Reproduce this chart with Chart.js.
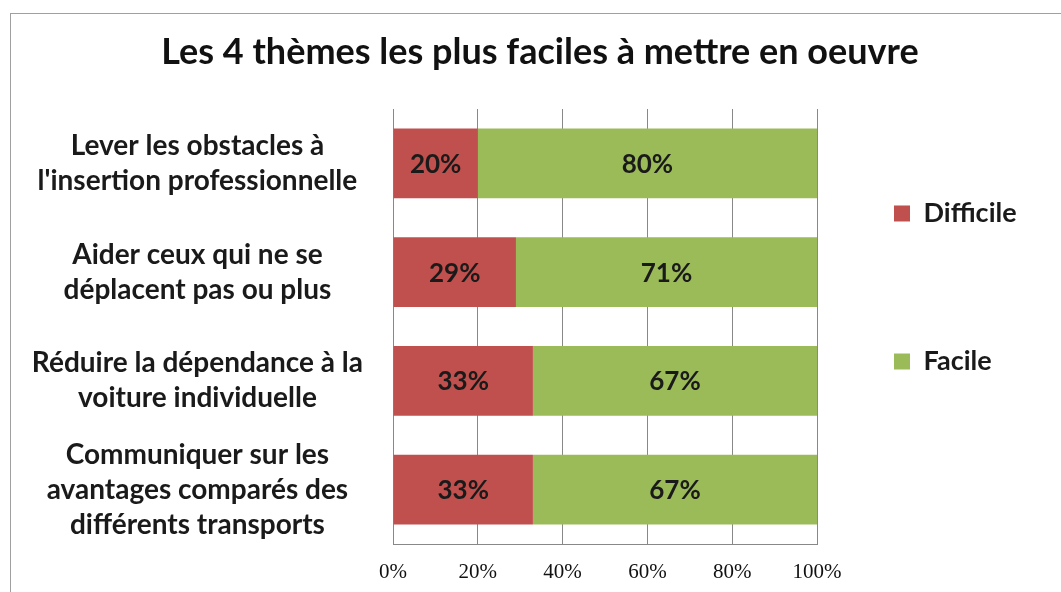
<!DOCTYPE html>
<html>
<head>
<meta charset="utf-8">
<script src="https://cdn.jsdelivr.net/npm/chart.js@4/dist/chart.umd.min.js"></script>
<style>
  html, body { margin: 0; padding: 0; background: #fff; overflow: hidden; }
  #frame { position: absolute; left: 10px; top: 13px; width: 1100px; height: 700px; border: 1px solid #a0a0a0; }
  #chart-1 { position: absolute; left: 0; top: 0; }
</style>
</head>
<body>
<div id="frame"></div>
<canvas id="chart-1" width="1061" height="592"></canvas>
<script>
const categories = [
  ["Lever les obstacles à", "l'insertion professionnelle"],
  ["Aider ceux qui ne se", "déplacent pas ou plus"],
  ["Réduire la dépendance à la", "voiture individuelle"],
  ["Communiquer sur les", "avantages comparés des", "différents transports"],
];
const difficile = [20, 29, 33, 33];
const facile = [80, 71, 67, 67];
const seriesNames = ["Difficile", "Facile"];
const titleText = "Les 4 thèmes les plus faciles à mettre en oeuvre";

// writes the % value in the middle of each bar segment
const barLabels = {
  id: "barLabels",
  afterDatasetsDraw(chart) {
    const ctx = chart.ctx;
    ctx.save();
    ctx.font = "bold 26px Lato";
    ctx.fillStyle = "#1a1a1a";
    ctx.textAlign = "center";
    ctx.textBaseline = "middle";
    chart.data.datasets.forEach((ds, i) => {
      chart.getDatasetMeta(i).data.forEach((bar, j) => {
        const p = bar.getProps(["x", "y", "base"], true);
        ctx.fillText(`${ds.data[j]}%`, (p.x + p.base) / 2, p.y + 1);
      });
    });
    ctx.restore();
  },
};

// legend column as wide as in the original, so the plot stops at 100%
const legendWidth = {
  id: "legendWidth",
  afterInit(chart) {
    const legend = chart.legend;
    const fit = legend.fit;
    legend.fit = function () {
      fit.call(this);
      this.width = 230;
    };
  },
};

const ctx_1 = document.getElementById("chart-1");
new Chart(ctx_1, {
  type: "bar",
  data: {
    labels: categories,
    datasets: [
      { label: seriesNames[0], data: difficile, backgroundColor: "#c0504d" },
      { label: seriesNames[1], data: facile, backgroundColor: "#9bbb59" },
    ],
  },
  options: {
    indexAxis: "y",
    responsive: false,
    animation: false,
    devicePixelRatio: 1,
    barPercentage: 0.8,
    categoryPercentage: 0.8,
    layout: { padding: { left: 33, right: 14, top: 34, bottom: 7 } },
    scales: {
      x: {
        stacked: true,
        min: 0,
        max: 100,
        grid: { color: "#888", drawTicks: false },
        border: { color: "#888" },
        afterFit(scale) {
          scale.height = 41;
        },
        ticks: {
          stepSize: 20,
          padding: 16,
          maxRotation: 0,
          color: "#111",
          font: { family: "Liberation Serif", size: 21 },
          callback: (v) => `${v}%`,
        },
      },
      y: {
        stacked: true,
        grid: { display: false, drawTicks: true, tickLength: 30 },
        border: { color: "#888" },
        afterFit(scale) {
          scale.width = 360;
          scale.paddingTop = 0;
          scale.paddingBottom = 0;
        },
        ticks: {
          autoSkip: false,
          padding: 0,
          crossAlign: "center",
          color: "#1a1a1a",
          font: { family: "Lato", size: 28, weight: "bold", lineHeight: 1.25 },
        },
      },
    },
    plugins: {
      title: {
        display: true,
        text: titleText,
        color: "#111",
        font: { family: "Lato", size: 36, weight: "bold", lineHeight: 1 },
        padding: { top: 0, bottom: 39 },
      },
      legend: {
        display: true,
        position: "right",
        align: "center",
        labels: {
          boxWidth: 16,
          boxHeight: 16,
          padding: 77,
          color: "#1a1a1a",
          font: { family: "Lato", size: 27, weight: "bold", lineHeight: 1.315 },
          // blank second line gives the wide gap between the two entries
          generateLabels(chart) {
            const items = Chart.defaults.plugins.legend.labels.generateLabels(chart);
            return items.map((it) => ({ ...it, text: [it.text, ""] }));
          },
        },
      },
      tooltip: { enabled: false },
    },
  },
  plugins: [barLabels, legendWidth],
});
</script>
</body>
</html>
